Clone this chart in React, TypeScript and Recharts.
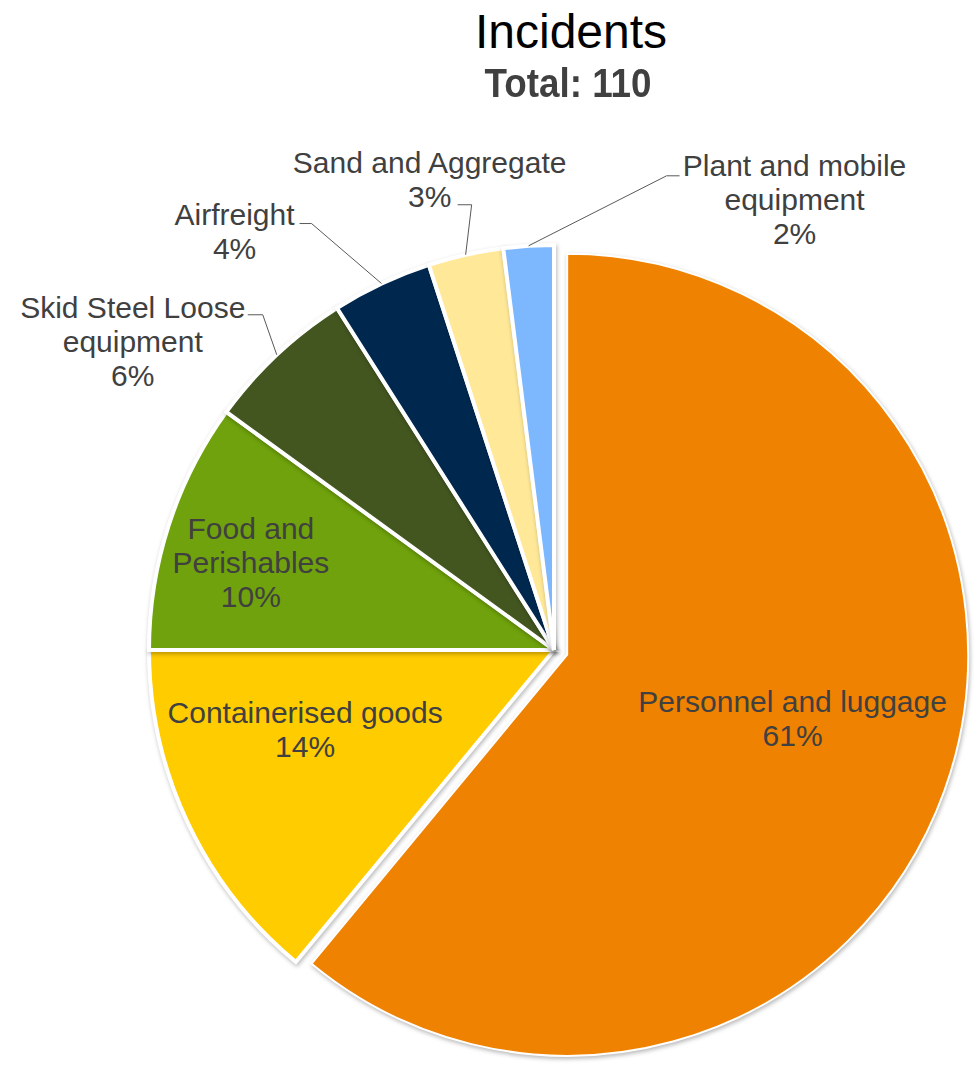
import React from 'react';
import { PieChart, Pie, Cell } from 'recharts';

// category names (line breaks where the label wraps), share in %
const categories = [
  'Personnel and luggage',
  'Containerised goods',
  'Food and\nPerishables',
  'Skid Steel Loose\nequipment',
  'Airfreight',
  'Sand and Aggregate',
  'Plant and mobile\nequipment',
];
const shares = [61, 14, 10, 6, 4, 3, 2];
const colors = ['#EF8200', '#FFCC00', '#6FA20C', '#435620', '#00284F', '#FFE897', '#7DB8FF'];
const totalIncidents = 110;

const data = categories.map((name, i) => ({ name, value: shares[i] }));

const W = 975;
const H = 1067;
const CX = 554;
const CY = 650;
const R = 405;
const R_EXPLODED = 401;
const EXPLODE = 14;
const START = 90;
const END = -270;
const RAD = Math.PI / 180;
const FONT = '"Liberation Sans", Arial, sans-serif';
const LINE_H = 34;
const SHADOW = { filter: 'drop-shadow(1px 2px 2px rgba(0,0,0,0.28))' };

// first slice is pulled out along its mid angle
const sum = shares.reduce((a, b) => a + b, 0);
const firstMid = START - (shares[0] / sum) * 180;
const ex = EXPLODE * Math.cos(firstMid * RAD);
const ey = -EXPLODE * Math.sin(firstMid * RAD);

const polar = (cx: number, cy: number, r: number, a: number) => [
  cx + r * Math.cos(-a * RAD),
  cy + r * Math.sin(-a * RAD),
];

type Place = { inside?: boolean; text: number[]; elbow?: number[]; end?: number[] };

// inside labels hang off a point at 60% radius, outside ones off the rim
const labelPlace: Record<number, Place> = {
  0: { inside: true, text: [10, -31] },
  1: { inside: true, text: [-29, -41] },
  2: { inside: true, text: [-72, -47] },
  3: { text: [-144, -48], elbow: [-14, -40], end: [-29, -40] },
  4: { text: [-147, -70], elbow: [-70, -60], end: [-82, -60] },
  5: { text: [-36, -93], elbow: [6, -50], end: [-8, -50] },
  6: { text: [266, -81], elbow: [138, -70], end: [151, -70] },
};

const renderLabel = (props: any) => {
  const { cx, cy, midAngle, outerRadius, index, name, percent } = props;
  const place = labelPlace[index];
  if (!place) return null;
  const [bx, by] = polar(cx, cy, place.inside ? outerRadius * 0.6 : outerRadius, midAngle);
  const tx = bx + place.text[0];
  const ty = by + place.text[1];
  const lines = [...String(name).split('\n'), `${Math.round(percent * 100)}%`];
  return (
    <g key={`lbl-${index}`}>
      {place.elbow && place.end && (
        <polyline
          points={`${bx},${by} ${bx + place.elbow[0]},${by + place.elbow[1]} ${bx + place.end[0]},${by + place.end[1]}`}
          fill="none"
          stroke="#595959"
          strokeWidth={1}
        />
      )}
      <text x={tx} y={ty} textAnchor="middle" fill="#404040" fontSize={30} fontFamily={FONT}>
        {lines.map((l, i) => (
          <tspan key={i} x={tx} y={ty + 11 + i * LINE_H}>
            {l}
          </tspan>
        ))}
      </text>
    </g>
  );
};

export default function App() {
  return (
    <div style={{ position: 'absolute', left: 0, top: 0, width: W, height: H, background: '#fff' }}>
      <div
        style={{
          position: 'absolute',
          left: 371,
          top: 8,
          width: 400,
          textAlign: 'center',
          fontFamily: FONT,
          fontSize: 48,
          lineHeight: '48px',
          color: '#000',
        }}
      >
        Incidents
      </div>
      <div
        style={{
          position: 'absolute',
          left: 368,
          top: 63,
          width: 400,
          textAlign: 'center',
          fontFamily: FONT,
          fontSize: 40,
          fontWeight: 'bold',
          lineHeight: '40px',
          color: '#404040',
          transform: 'scaleX(0.92)',
        }}
      >
        Total: {totalIncidents}
      </div>
      <PieChart width={W} height={H} margin={{ top: 0, right: 0, bottom: 0, left: 0 }}>
        <Pie
          data={data}
          dataKey="value"
          nameKey="name"
          cx={CX + ex}
          cy={CY + ey}
          outerRadius={R_EXPLODED}
          startAngle={START}
          endAngle={END}
          stroke="none"
          isAnimationActive={false}
        >
          {data.map((d, i) => (
            <Cell
              key={d.name}
              fill={i === 0 ? colors[i] : 'transparent'}
              stroke={i === 0 ? '#fff' : 'none'}
              strokeWidth={2}
              style={i === 0 ? SHADOW : undefined}
            />
          ))}
        </Pie>
        <Pie
          data={data}
          dataKey="value"
          nameKey="name"
          cx={CX}
          cy={CY}
          outerRadius={R}
          startAngle={START}
          endAngle={END}
          label={renderLabel}
          labelLine={false}
          isAnimationActive={false}
        >
          {data.map((d, i) => (
            <Cell
              key={d.name}
              fill={i === 0 ? 'transparent' : colors[i]}
              stroke={i === 0 ? 'none' : '#fff'}
              strokeWidth={4}
              style={i === 0 ? undefined : SHADOW}
            />
          ))}
        </Pie>
      </PieChart>
    </div>
  );
}
